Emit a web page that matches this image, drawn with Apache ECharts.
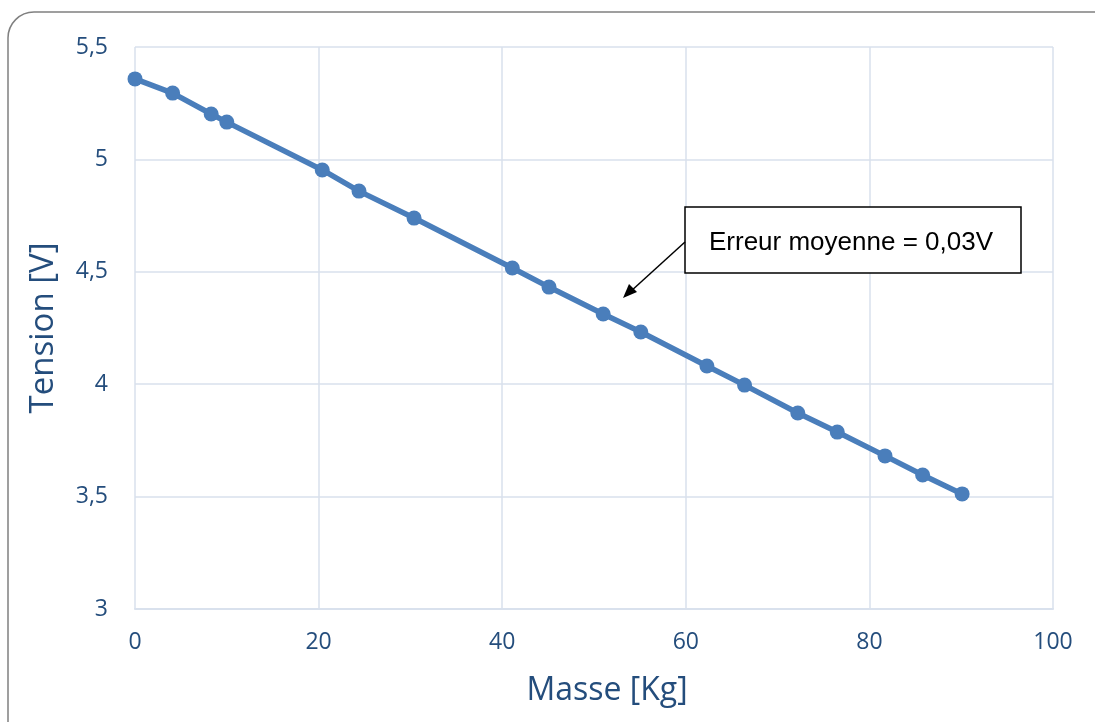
<!DOCTYPE html>
<html><head><meta charset="utf-8">
<script src="https://cdn.jsdelivr.net/npm/echarts@6/dist/echarts.min.js"></script>
<style>html,body{margin:0;padding:0;background:#fff}#c{width:1095px;height:722px}</style>
</head><body><div id="c"></div>
<script>
var masse = [0, 4.1, 8.3, 10.0, 20.4, 24.4, 30.4, 41.1, 45.1, 51.0, 55.1, 62.3, 66.4, 72.2, 76.5, 81.7, 85.8, 90.1];
var tension = [5.358, 5.295, 5.202, 5.166, 4.953, 4.859, 4.739, 4.517, 4.432, 4.312, 4.232, 4.081, 3.996, 3.872, 3.787, 3.681, 3.596, 3.512];
var xTicks = [0, 20, 40, 60, 80, 100];
var yTicks = [3, 3.5, 4, 4.5, 5, 5.5];
var annotationText = 'Erreur moyenne = 0,03V';

var pts = masse.map(function(m, i){ return [m, tension[i]]; });
var chart = echarts.init(document.getElementById('c'), null, {renderer:'canvas'});
var font = 'Open Sans';
var txtColor = '#244d7c';
chart.setOption({
  animation:false,
  grid:{left:135, right:42, top:47, bottom:113, containLabel:false},
  xAxis:{type:'value', min:0, max:100, interval:20,
    name:'Masse [Kg]', nameLocation:'middle', nameGap:66,
    nameTextStyle:{fontFamily:font, fontSize:32, color:txtColor, padding:[0,0,0,26]},
    axisLine:{show:true, lineStyle:{color:'#d9e1ed', width:2}},
    axisTick:{show:false},
    axisLabel:{fontFamily:font, fontSize:23, color:txtColor, margin:22,
      formatter:function(v){return String(v);}},
    splitLine:{show:true, lineStyle:{color:'#d9e1ed', width:1.5}}},
  yAxis:{type:'value', min:3, max:5.5, interval:0.5,
    name:'Tension [V]', nameLocation:'middle', nameGap:75, nameRotate:90,
    nameTextStyle:{fontFamily:font, fontSize:33, color:txtColor},
    axisLine:{show:false}, axisTick:{show:false},
    axisLabel:{fontFamily:font, fontSize:23, color:txtColor, margin:27,
      formatter:function(v){return String(v).replace('.', ',');}},
    splitLine:{show:true, lineStyle:{color:'#d9e1ed', width:1.5}}},
  series:[{type:'line', data:pts, symbol:'circle', symbolSize:15,
    lineStyle:{color:'#4a7ebb', width:5.5},
    itemStyle:{color:'#4a7ebb'}}],
  graphic:[
    {type:'rect', shape:{x:8, y:12, width:1120, height:740, r:26},
      style:{fill:'none', stroke:'#808080', lineWidth:1.5}, z:-1},
    {type:'rect', shape:{x:685, y:207, width:336, height:66},
      style:{fill:'#fff', stroke:'#000', lineWidth:1.5}, z:10},
    {type:'text', x:851, y:243, z:11,
      style:{text:annotationText, font:'26px "Liberation Sans"', fill:'#000', textAlign:'center', textVerticalAlign:'middle'}},
    {type:'line', shape:{x1:685, y1:242, x2:630, y2:292},
      style:{stroke:'#000', lineWidth:1.5}, z:10},
    {type:'polygon', shape:{points:[[623,298],[637,292],[629,284]]},
      style:{fill:'#000'}, z:10}
  ]
});
</script></body></html>
